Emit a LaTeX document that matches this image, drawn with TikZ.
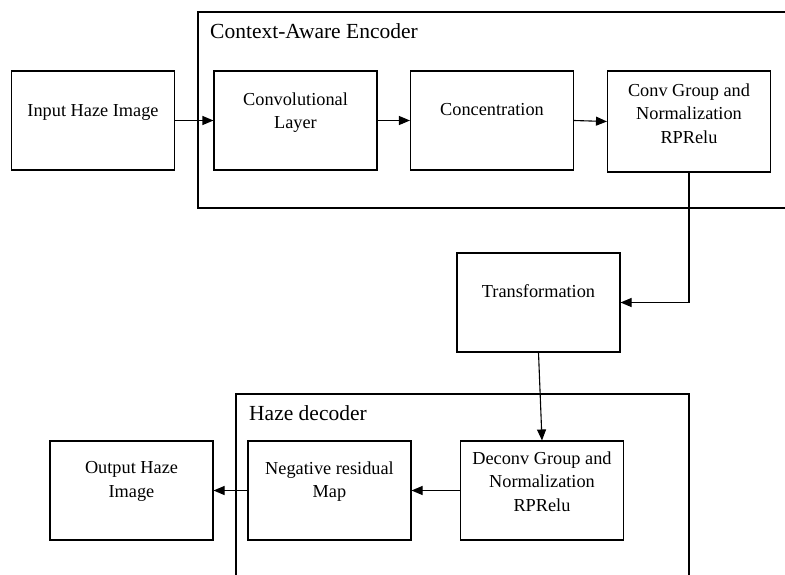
\documentclass[tikz,border=0pt]{standalone}
\usepackage{fontspec}
\setmainfont{Liberation Serif}
\usetikzlibrary{arrows.meta,calc}
\begin{document}
\begin{tikzpicture}[x=1pt,y=-1pt,
  stagebox/.style={draw, line width=1.1pt, minimum width=163pt, minimum height=99pt, inner sep=0pt},
  boxtext/.style={align=center, inner sep=0pt, font=\fontsize{18.3}{23.5}\selectfont},
  grouptitle/.style={anchor=west, inner sep=0pt, font=\fontsize{21.5}{25}\selectfont},
  frame/.style={line width=1.1pt},
  flow/.style={line width=1.1pt, -{Triangle[length=11pt,width=9pt]}}]
\useasboundingbox (0,0) rectangle (785,574);
\clip (0,0) rectangle (785,574);
\fill[white] (0,0) rectangle (785,574);
% group frames
\coordinate (encTR) at (790,12);
\coordinate (encTL) at (198,12);
\coordinate (encBL) at (198,208);
\coordinate (encBR) at (790,208);
\draw[frame] (encTR) -- (encTL) -- (encBL) -- (encBR);
\coordinate (decBL) at (236,580);
\coordinate (decTL) at (236,394);
\coordinate (decTR) at (689,394);
\coordinate (decBR) at (689,580);
\draw[frame] (decBL) -- (decTL) -- (decTR) -- (decBR);
\node[grouptitle] (enctitle) at (210,31) {Context-Aware Encoder};
\node[grouptitle] (dectitle) at (249,413) {Haze decoder};
% boxes
\node[stagebox] (inp) at (93,120.5) {};
\node[stagebox] (conv) at (295.5,120.5) {};
\node[stagebox] (conc) at (492,120.5) {};
\node[stagebox, minimum height=101pt] (cgn) at (689,121.5) {};
\node[stagebox] (trans) at (538.5,302.5) {};
\node[stagebox] (dec) at (542,490.5) {};
\node[stagebox] (neg) at (329.5,490.5) {};
\node[stagebox] (out) at (131.5,490.5) {};
% texts
\node[boxtext] (inpt) at ([yshift=-42pt]inp.north) {Input Haze Image};
\node[boxtext] (convt) at ([yshift=-42pt]conv.north) {Convolutional\\Layer};
\node[boxtext] (conct) at ([yshift=-39pt]conc.north) {Concentration};
\node[boxtext] (cgnt) at ([yshift=-43pt]cgn.north) {Conv Group and\\Normalization\\RPRelu};
\node[boxtext] (transt) at ([yshift=-39pt]trans.north) {Transformation};
\node[boxtext] (dect) at ([yshift=-41pt]dec.north) {Deconv Group and\\Normalization\\RPRelu};
\node[boxtext] (negt) at ([yshift=-41pt]neg.north) {Negative residual\\Map};
\node[boxtext] (outt) at ([yshift=-41pt]out.north) {Output Haze\\Image};
% connectors
\draw[flow] (inp.east) -- (conv.west);
\draw[flow] (conv.east) -- (conc.west);
\draw[flow] (conc.east) -- (cgn.west);
\draw[flow] (cgn.south) |- (trans.east);
\draw[flow] (trans.south) -- (dec.north);
\draw[flow] (dec.west) -- (neg.east);
\draw[flow] (neg.west) -- (out.east);
\end{tikzpicture}
\end{document}
